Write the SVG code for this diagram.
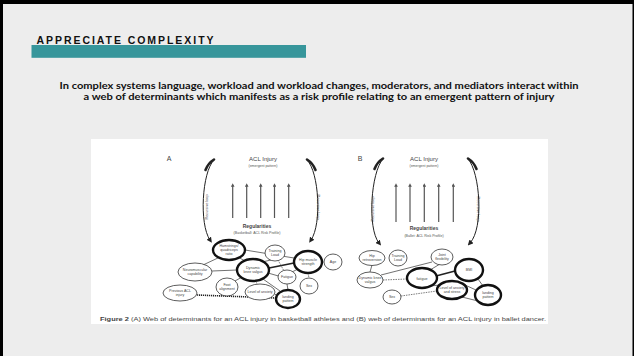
<svg xmlns="http://www.w3.org/2000/svg" width="634" height="356" viewBox="0 0 634 356">
<defs>
<style>
.nt{font-family:"Liberation Sans",Arial,sans-serif;font-size:3.6px;fill:#444;text-anchor:middle}
.el{fill:#fff;stroke:#333;stroke-width:0.8}
.eb{fill:#fff;stroke:#111;stroke-width:2.4}
.ln{stroke:#333;stroke-width:0.7;fill:none}
.lt{stroke:#222;stroke-width:1.6;fill:none}
.ld{stroke:#444;stroke-width:0.7;fill:none;stroke-dasharray:1.5 1}
.up{stroke:#555;stroke-width:1.2;fill:none;marker-end:url(#ah)}
.cv{stroke:#222;stroke-width:1;fill:none;marker-end:url(#ch)}
.cvt{stroke:#222;stroke-width:2.6;fill:none;stroke-linecap:round}
.side{font-family:"Liberation Sans",Arial,sans-serif;font-size:3.8px;fill:#555;text-anchor:middle}
</style>
<marker id="ah" viewBox="0 0 10 10" refX="5" refY="5" markerWidth="3" markerHeight="3" orient="auto"><path d="M0,0 L10,5 L0,10 z" fill="#555"/></marker>
<marker id="ch" viewBox="0 0 10 10" refX="4" refY="5" markerWidth="5.5" markerHeight="5.5" orient="auto"><path d="M0,0 L10,5 L0,10 z" fill="#222"/></marker>
</defs>
<rect x="0" y="0" width="634" height="356" fill="#ededed"/>
<rect x="0" y="0" width="634" height="4" fill="#000"/>
<rect x="0" y="0" width="3" height="356" fill="#000"/>
<rect x="632.5" y="0" width="1.5" height="356" fill="#000"/>

<g id="title">
<rect x="31.5" y="45" width="274.5" height="12.8" fill="#37969b"/>
<text x="36.5" y="43.7" font-family="Liberation Sans,Arial,sans-serif" font-weight="bold" font-size="10.5" fill="#111" textLength="177" lengthAdjust="spacing">APPRECIATE COMPLEXITY</text>
</g>
<g id="subtitle" font-family="Lato,'Open Sans',sans-serif" font-weight="bold" font-size="9.2" fill="#111" text-anchor="middle">
<text x="319" y="89" textLength="519" lengthAdjust="spacingAndGlyphs">In complex systems language, workload and workload changes, moderators, and mediators interact within</text>
<text x="319" y="100.3" textLength="471" lengthAdjust="spacingAndGlyphs">a web of determinants which manifests as a risk profile relating to an emergent pattern of injury</text>
</g>

<rect x="91" y="139" width="457" height="185" fill="#fff"/>

<g id="panelA-frame" font-family="Liberation Sans,Arial,sans-serif">
<text x="169" y="161" font-size="7" fill="#444" text-anchor="middle">A</text>
<text x="263" y="161" font-size="6" fill="#444" text-anchor="middle">ACL Injury</text>
<text x="263" y="167" font-size="3.5" fill="#555" text-anchor="middle">(emergent pattern)</text>
<text x="257" y="227.5" font-size="5" font-weight="bold" fill="#444" text-anchor="middle">Regularities</text>
<text x="257" y="234" font-size="3.6" fill="#555" text-anchor="middle">(Basketball: ACL Risk Profile)</text>
<text class="side" transform="translate(208,207) rotate(-90)">Recursive loop</text>
<text class="side" transform="translate(317,207) rotate(90)">Recursive loop</text>
</g>
<g id="panelB-frame" font-family="Liberation Sans,Arial,sans-serif">
<text x="360" y="161" font-size="7" fill="#444" text-anchor="middle">B</text>
<text x="424" y="161" font-size="6" fill="#444" text-anchor="middle">ACL Injury</text>
<text x="424" y="167" font-size="3.5" fill="#555" text-anchor="middle">(emergent pattern)</text>
<text x="424" y="230" font-size="5" font-weight="bold" fill="#444" text-anchor="middle">Regularities</text>
<text x="424" y="237" font-size="3.6" fill="#555" text-anchor="middle">(Ballet: ACL Risk Profile)</text>
<text class="side" transform="translate(374,209) rotate(-90)">Recursive loop</text>
<text class="side" transform="translate(477,209) rotate(90)">Recursive loop</text>
</g>

<g id="connectors">
<line class="up" x1="232.7" y1="218" x2="232.7" y2="185"/>
<line class="up" x1="246.7" y1="218" x2="246.7" y2="185"/>
<line class="up" x1="260.7" y1="218" x2="260.7" y2="185"/>
<line class="up" x1="274.5" y1="218" x2="274.5" y2="185"/>
<line class="up" x1="288.7" y1="218" x2="288.7" y2="185"/>
<line class="up" x1="396" y1="222" x2="396" y2="185"/>
<line class="up" x1="410" y1="222" x2="410" y2="185"/>
<line class="up" x1="424.3" y1="222" x2="424.3" y2="185"/>
<line class="up" x1="438.7" y1="222" x2="438.7" y2="185"/>
<line class="up" x1="453.3" y1="222" x2="453.3" y2="185"/>
<path class="cv" d="M214,160 C202,172 199,224 210,240"/>
<path class="cvt" d="M214,159.5 C210,162 207,166 205.5,170"/>
<path class="cv" d="M307,160 C319,172 322,224 311,240"/>
<path class="cvt" d="M307,159.5 C311,162 314,166 315.5,170"/>
<path class="cv" d="M383,159 C371,172 367,228 379,243"/>
<path class="cvt" d="M383,158.5 C379,161 376,165 374.5,169"/>
<path class="cv" d="M468,159 C480,172 484,228 470,243"/>
<path class="cvt" d="M468,158.5 C472,161 475,165 476.5,169"/>
<line class="ln" x1="220" y1="257" x2="203" y2="265"/>
<line class="ln" x1="238" y1="257" x2="245" y2="261"/>
<line class="ln" x1="245" y1="250" x2="294" y2="258"/>
<line class="ln" x1="271" y1="260" x2="262" y2="262"/>
<line class="lt" x1="269" y1="268" x2="294" y2="263"/>
<line class="ln" x1="212" y1="271" x2="237" y2="270"/>
<line class="ln" x1="268" y1="273" x2="278.5" y2="276"/>
<line class="ln" x1="263" y1="279" x2="280" y2="291"/>
<line class="ld" x1="254" y1="281" x2="258" y2="284"/>
<line class="ln" x1="235" y1="281" x2="242" y2="277"/>
<line class="lt" x1="197" y1="295" x2="276" y2="298" stroke-dasharray="1.2 0.8"/>
<line class="ln" x1="287" y1="284" x2="288" y2="290"/>
<line class="ln" x1="292" y1="272" x2="298" y2="269"/>
<line class="ld" x1="308" y1="273" x2="309" y2="278"/>
<line class="ld" x1="322" y1="262" x2="324" y2="262"/>
<line class="ln" x1="275" y1="294" x2="277" y2="296"/>
<line class="ld" x1="278" y1="260" x2="284" y2="271"/>
<line class="ln" x1="372" y1="265" x2="370" y2="272"/>
<line class="ln" x1="381" y1="275" x2="432" y2="262"/>
<line class="ld" x1="383" y1="280" x2="407" y2="279"/>
<line class="lt" x1="436" y1="276" x2="455" y2="271"/>
<line class="ln" x1="440" y1="264" x2="430" y2="270"/>
<line class="ln" x1="478" y1="279" x2="483" y2="286"/>
<line class="ln" x1="465" y1="285" x2="476" y2="290"/>
<line class="ln" x1="462" y1="297" x2="478" y2="301"/>
<line class="ld" x1="401" y1="296" x2="437" y2="291"/>
<line class="ln" x1="430" y1="286" x2="440" y2="285"/>
</g>

<g id="nA1"><ellipse class="eb" cx="229" cy="250" rx="16" ry="10"/><text class="nt" x="229" y="247">Hamstrings/</text><text class="nt" x="229" y="251">quadriceps</text><text class="nt" x="229" y="255">ratio</text></g>
<g id="nA2"><ellipse class="el" cx="275" cy="253" rx="10" ry="8"/><text class="nt" x="275" y="252">Training</text><text class="nt" x="275" y="256">Load</text></g>
<g id="nA3"><ellipse class="eb" cx="308" cy="262" rx="14" ry="11"/><text class="nt" x="308" y="261">Hip muscle</text><text class="nt" x="308" y="265">strength</text></g>
<g id="nA4"><ellipse class="el" cx="333" cy="262" rx="9" ry="8"/><text class="nt" x="333" y="263.3">Age</text></g>
<g id="nA5"><ellipse class="el" cx="195" cy="272" rx="17" ry="9"/><text class="nt" x="195" y="271">Neuromuscular</text><text class="nt" x="195" y="275">capability</text></g>
<g id="nA6"><ellipse class="eb" cx="253" cy="270" rx="16" ry="11"/><text class="nt" x="253" y="269">Dynamic</text><text class="nt" x="253" y="273">knee valgus</text></g>
<g id="nA7"><ellipse class="el" cx="287" cy="277" rx="9" ry="7"/><text class="nt" x="287" y="278.3">Fatigue</text></g>
<g id="nA8"><ellipse class="el" cx="309" cy="286" rx="9" ry="8"/><text class="nt" x="309" y="287.3">Sex</text></g>
<g id="nA9"><ellipse class="el" cx="227" cy="287" rx="11" ry="9"/><text class="nt" x="227" y="286">Foot</text><text class="nt" x="227" y="290">alignment</text></g>
<g id="nA10"><ellipse class="el" cx="260" cy="292" rx="15" ry="8"/><text class="nt" x="260" y="293.3">Level of anxiety</text></g>
<g id="nA11"><ellipse class="el" cx="180" cy="293" rx="17" ry="8"/><text class="nt" x="180" y="292">Previous ACL</text><text class="nt" x="180" y="296">injury</text></g>
<g id="nA12"><ellipse class="eb" cx="288" cy="299" rx="12" ry="9"/><text class="nt" x="288" y="298">landing</text><text class="nt" x="288" y="302">pattern</text></g>

<g id="nB1"><ellipse class="el" cx="372" cy="258" rx="13" ry="7.5"/><text class="nt" x="372" y="257">Hip</text><text class="nt" x="372" y="261">retroversion</text></g>
<g id="nB2"><ellipse class="el" cx="398" cy="258" rx="9" ry="8"/><text class="nt" x="398" y="257">Training</text><text class="nt" x="398" y="261">Load</text></g>
<g id="nB3"><ellipse class="el" cx="442" cy="257" rx="11" ry="8"/><text class="nt" x="442" y="256">Joint</text><text class="nt" x="442" y="260">flexibility</text></g>
<g id="nB4"><ellipse class="el" cx="370" cy="280" rx="13" ry="8"/><text class="nt" x="370" y="279">Dynamic knee</text><text class="nt" x="370" y="283">valgus</text></g>
<g id="nB5"><ellipse class="eb" cx="422" cy="278" rx="15" ry="10"/><text class="nt" x="422" y="280" font-size="5.5">fatigue</text></g>
<g id="nB6"><ellipse class="eb" cx="469" cy="270" rx="14" ry="11"/><text class="nt" x="469" y="271.3">BMI</text></g>
<g id="nB7"><ellipse class="eb" cx="452" cy="290" rx="15" ry="9"/><text class="nt" x="452" y="289">Level of anxiety</text><text class="nt" x="452" y="293">and stress</text></g>
<g id="nB8"><ellipse class="eb" cx="488" cy="295" rx="13" ry="10"/><text class="nt" x="488" y="294">landing</text><text class="nt" x="488" y="298">pattern</text></g>
<g id="nB9"><ellipse class="el" cx="392" cy="297" rx="9" ry="7"/><text class="nt" x="392" y="298.3">Sex</text></g>

<g id="caption" font-family="Liberation Sans,Arial,sans-serif" font-size="5" fill="#444">
<text x="100" y="320.5" textLength="446" lengthAdjust="spacingAndGlyphs"><tspan font-weight="bold">Figure 2</tspan>   (A) Web of determinants for an ACL injury in basketball athletes and (B) web of determinants for an ACL injury in ballet dancer.</text>
</g>
</svg>
